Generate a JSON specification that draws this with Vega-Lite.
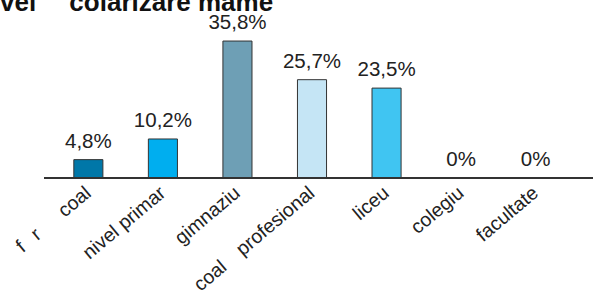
{
  "$schema": "https://vega.github.io/schema/vega-lite/v6.json",
  "autosize": "none",
  "padding": {"left": 44, "top": 20, "right": 0, "bottom": 126},
  "width": 549,
  "height": 158,
  "background": "white",
  "title": {
    "text": "Nivel\u00a0\u2003colarizare mame",
    "anchor": "start",
    "frame": "group",
    "orient": "top",
    "baseline": "alphabetic",
    "offset": 0,
    "dx": -70,
    "dy": 24,
    "font": "Liberation Sans",
    "fontSize": 26,
    "fontWeight": "bold",
    "color": "#111111"
  },
  "data": {
    "values": [
      {"cat": "f\u2002\u2009r\u2003\u2002coal", "val": 4.8, "label": "4,8%", "color": "#0077A8"},
      {"cat": "nivel primar", "val": 10.2, "label": "10,2%", "color": "#00AEEF"},
      {"cat": "gimnaziu", "val": 35.8, "label": "35,8%", "color": "#6E9FB5"},
      {"cat": "coal\u2002\u2002profesional", "val": 25.7, "label": "25,7%", "color": "#C5E5F5"},
      {"cat": "liceu", "val": 23.5, "label": "23,5%", "color": "#40C5F2"},
      {"cat": "colegiu", "val": 0, "label": "0%", "color": "#3399CC"},
      {"cat": "facultate", "val": 0, "label": "0%", "color": "#3399CC"}
    ]
  },
  "encoding": {
    "x": {
      "field": "cat",
      "type": "nominal",
      "sort": null,
      "scale": {"range": [0, 536], "paddingInner": 0.61, "paddingOuter": 0.4},
      "axis": {
        "title": null,
        "domain": false,
        "ticks": false,
        "labelAngle": 320,
        "labelAlign": "right",
        "labelBaseline": "middle",
        "labelPadding": 12,
        "labelFont": "Liberation Sans",
        "labelFontSize": 19.5,
        "labelFontWeight": "normal",
        "labelColor": "#222222",
        "labelLimit": 300
      }
    }
  },
  "layer": [
    {
      "mark": {"type": "bar", "stroke": "#333333", "strokeWidth": 1},
      "encoding": {
        "y": {"field": "val", "type": "quantitative", "scale": {"domain": [0, 41.3], "nice": false}, "axis": null},
        "fill": {"field": "color", "type": "nominal", "scale": null}
      }
    },
    {
      "mark": {"type": "text", "baseline": "alphabetic", "dy": -12, "font": "Liberation Sans", "fontSize": 20.5, "fontWeight": "normal", "color": "#222222"},
      "encoding": {
        "y": {"field": "val", "type": "quantitative"},
        "text": {"field": "label"}
      }
    },
    {
      "mark": {"type": "rule", "color": "#333333", "strokeWidth": 1.5},
      "encoding": {"y": {"datum": 0, "type": "quantitative"}, "x": {"value": 0}, "x2": {"value": 549}}
    }
  ],
  "config": {"view": {"stroke": null}}
}
